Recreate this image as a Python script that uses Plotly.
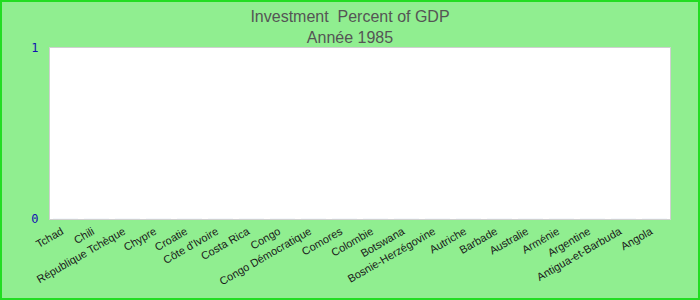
import plotly.graph_objects as go

countries = ["Tchad", "Chili", "République Tchèque", "Chypre", "Croatie", "Côte d'Ivoire",
             "Costa Rica", "Congo", "Congo Démocratique", "Comores", "Colombie", "Botswana",
             "Bosnie-Herzégovine", "Autriche", "Barbade", "Australie", "Arménie", "Argentine",
             "Antigua-et-Barbuda", "Angola"]
values = [0] * len(countries)
y_ticks = [0, 1]

W, H = 700, 300
ml, mr, mt, mb = 50, 30, 48, 81
pw, ph = W - ml - mr, H - mt - mb

fig = go.Figure(go.Bar(x=countries, y=values, marker_color="#4472C4"))

fig.update_layout(
    width=W, height=H,
    margin=dict(l=ml, r=mr, t=mt, b=mb),
    paper_bgcolor="#90EE90",
    plot_bgcolor="white",
    showlegend=False,
    title=dict(text="Investment  Percent of GDP<br>Année 1985", x=0.5, xanchor="center",
               y=1 - 22 / H, yanchor="middle",
               font=dict(family="Liberation Sans, Arial", size=16, color="#555555")),
    font=dict(family="Liberation Sans, Arial", size=11, color="#222222"),
)
fig.update_xaxes(tickangle=-30, showgrid=False, showline=True, linecolor="#d0d0d0",
                 mirror=True, ticks="", ticklabelshift=-4, ticklabelstandoff=1,
                 tickfont=dict(size=11, color="#1a1a1a"))
fig.update_yaxes(range=[0, 1], tickvals=y_ticks, showgrid=False, zeroline=False,
                 showline=True, linecolor="#d0d0d0", mirror=True, ticks="",
                 ticklabelstandoff=8,
                 tickfont=dict(family="DejaVu Sans Mono", size=12, color="#1010B0"))

# outer border around the whole chart
fig.add_shape(type="rect", xref="paper", yref="paper",
              x0=(1 - ml) / pw, x1=(W - 1 - ml) / pw,
              y0=-(mb - 1) / ph, y1=1 + (mt - 1) / ph,
              line=dict(color="#22DD22", width=2), fillcolor="rgba(0,0,0,0)", layer="above")

fig.write_html("out.html")
